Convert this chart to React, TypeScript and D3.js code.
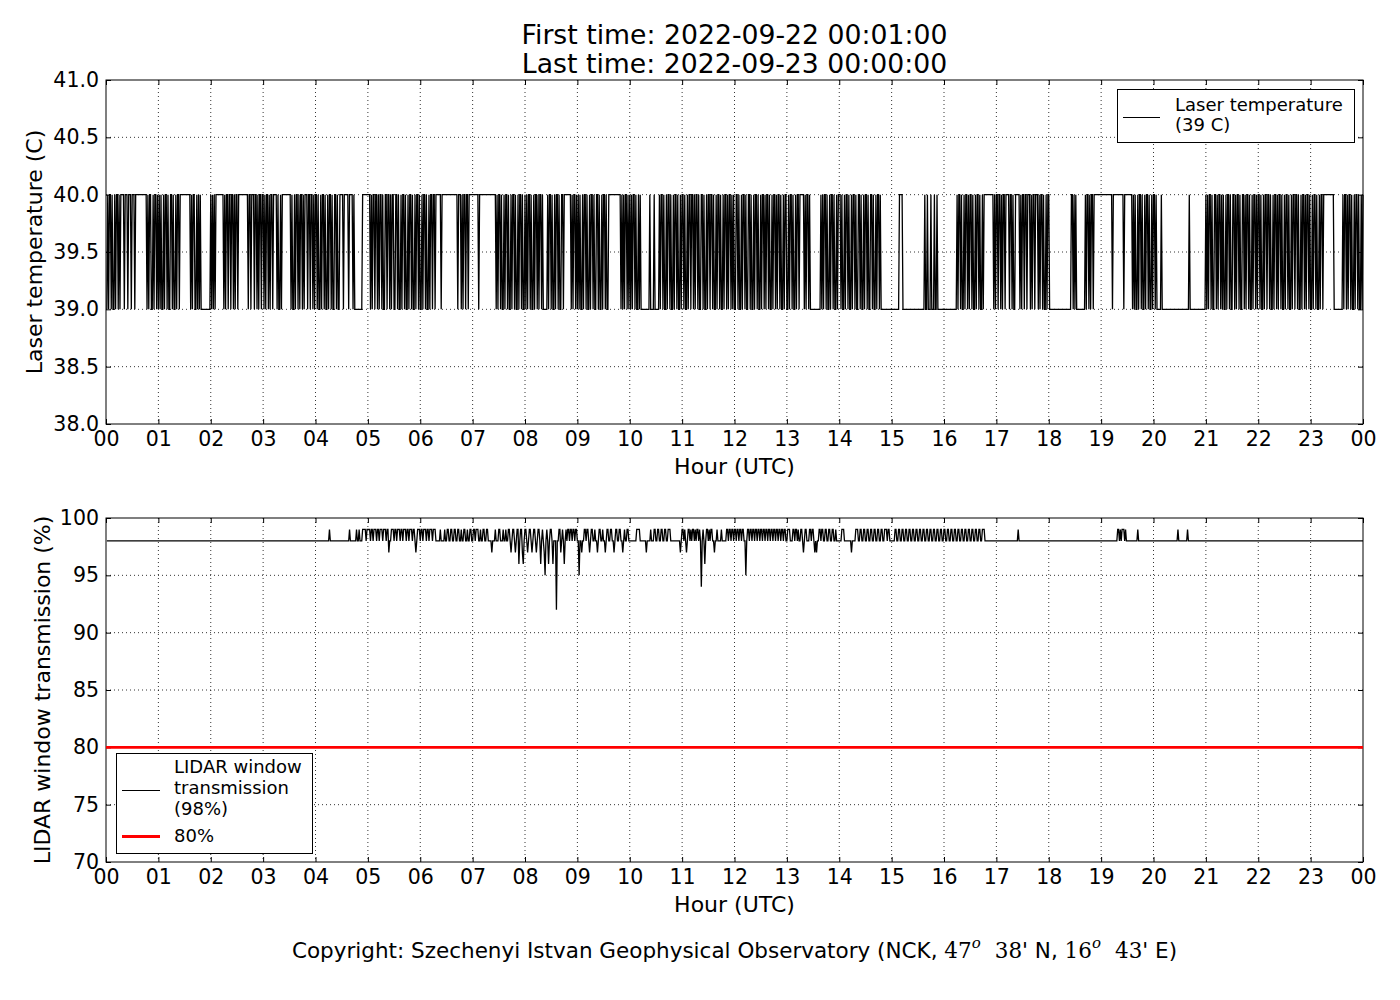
import React, { useEffect, useRef } from 'react';
import * as d3 from 'd3';

// hour tick labels (00 .. 23, 00 of next day)
const hourLabels = ['00', '01', '02', '03', '04', '05', '06', '07', '08', '09', '10', '11',
  '12', '13', '14', '15', '16', '17', '18', '19', '20', '21', '22', '23', '00'];

const laserTicks = [38.0, 38.5, 39.0, 39.5, 40.0, 40.5, 41.0];
const lidarTicks = [70, 75, 80, 85, 90, 95, 100];

// laser temperature per minute, one row per hour: 1 = 40 C, 0 = 39 C
const laserHours = [
  '0101101001 0110101111 0111011101 1101111111 1111110101 1001011010',
  '1010010110 1001101001 0110111111 1111110101 1001010100 0000000001',
  '0101011111 1111010110 1101101011 0111111111 1101101110 1101011011',
  '0101101011 0111101001 0111111111 1010010110 1011010111 0110110101',
  '1010010110 1001011010 0110100111 1011111011 1101000000 0001111111',
  '1101011011 0101101001 1011010110 0110100101 1010010110 1001011010',
  '0101101001 0110110111 1110111111 1111111111 1101110101 1011011111',
  '1111110111 1111111111 1111110101 1010010110 1001011010 0101101001',
  '0101101001 0110101101 0000010110 1001011010 0110111111 1101011010',
  '1010010110 1001011010 0110100101 1010011111 1111111110 1010110101',
  '0101101001 0100000000 0010000100 0001011010 0101101001 0110100101',
  '1010010110 1101011010 0110100101 1011010010 1101001011 0101101010',
  '0110100101 1010011010 0101101001 0110101101 0010110101 1010010110',
  '0101101001 0110111110 1011010000 0000000010 1011010010 1101001011',
  '1010010110 1001011010 0110100101 1010011010 0101101000 0000000000',
  '0000000011 1100000000 0000000000 0000000100 1000100010 0100000000',
  '0000000000 0000101101 0010110101 1010010110 1001011111 1111110101',
  '1011010110 1111011010 0111110101 1011011101 0110111010 1101001011',
  '0000000000 0000000000 0000011010 1000000000 0101101011 0111111111',
  '1111111111 1101111111 1111101111 1111101010 0101101001 0110100101',
  '1010000010 0000000000 0000000000 0000000000 1000000000 0000000001',
  '0101101001 1010110101 0010110100 1101011010 0110101101 0010110101',
  '1010010110 1101001011 0101101001 0110100101 1011010010 1101011010',
  '0101101001 0110111111 1111110000 0000001011 0101101001 0110100101',
];

// LIDAR window transmission: 98 % except these [first minute, last minute, value] runs
const lidarBase = 98;
const lidarRuns: [number, number, number][] = [
  [256, 256, 99],
  [279, 279, 99], [287, 287, 99], [290, 290, 99], [294, 297, 99], [299, 302, 99],
  [304, 305, 99], [307, 309, 99], [311, 312, 99], [314, 316, 99], [318, 320, 99], [322, 323, 99], [324, 324, 97],
  [327, 329, 99], [331, 332, 99], [334, 336, 99], [338, 339, 99], [341, 343, 99], [345, 346, 99], [348, 350, 99], [352, 353, 99], [355, 355, 97],
  [357, 359, 99], [361, 362, 99], [364, 366, 99], [368, 369, 99], [371, 373, 99], [375, 377, 99],
  [383, 383, 99], [388, 388, 99], [391, 392, 99], [395, 396, 99], [399, 400, 99], [403, 404, 99], [407, 407, 99], [410, 411, 99], [414, 414, 99], [417, 418, 99], [421, 422, 99],
  [424, 426, 99], [429, 429, 99], [432, 433, 99], [436, 437, 99], [442, 442, 97],
  [446, 446, 99], [450, 451, 99], [455, 455, 99], [458, 458, 99],
  [461, 462, 99], [464, 464, 97], [466, 467, 99], [469, 469, 97], [471, 472, 99], [473, 473, 96], [475, 476, 99], [477, 477, 97], [478, 478, 96], [480, 481, 99], [483, 483, 97], [485, 486, 99], [488, 488, 97],
  [490, 491, 99], [493, 493, 97], [495, 496, 99], [498, 498, 96], [500, 500, 99], [502, 502, 97], [503, 503, 95], [505, 505, 99], [507, 507, 96], [509, 510, 99], [512, 512, 96], [516, 516, 92],
  [519, 520, 99], [521, 521, 97], [523, 523, 99], [525, 525, 96], [527, 527, 99],
  [529, 530, 99], [532, 533, 99], [535, 536, 99], [538, 539, 99], [542, 542, 95], [545, 545, 97],
  [548, 549, 99], [551, 552, 99], [554, 554, 97], [556, 557, 99], [560, 560, 99], [563, 563, 97], [565, 566, 99], [569, 569, 99], [572, 572, 97], [574, 575, 99], [578, 579, 99], [582, 582, 97], [584, 585, 99], [588, 589, 99], [592, 592, 97], [594, 594, 99], [597, 598, 99],
  [608, 611, 99], [619, 619, 97],
  [624, 624, 99], [628, 629, 99], [632, 633, 99], [636, 637, 99], [640, 641, 99], [644, 646, 99], [658, 658, 97],
  [660, 661, 99], [663, 663, 99], [665, 665, 97], [667, 668, 99], [670, 670, 99], [672, 673, 99], [675, 675, 99], [677, 678, 99], [680, 680, 99], [682, 682, 94], [684, 684, 99], [686, 686, 96], [688, 689, 99], [691, 691, 99], [693, 694, 99], [697, 697, 97], [700, 700, 99], [705, 705, 99],
  [711, 712, 99], [714, 715, 99], [717, 718, 99], [720, 721, 99], [723, 724, 99], [726, 727, 99], [729, 730, 99], [733, 733, 95], [735, 736, 99], [738, 739, 99], [741, 742, 99], [744, 745, 99], [747, 748, 99], [750, 751, 99], [753, 754, 99], [756, 757, 99], [759, 760, 99], [762, 763, 99], [765, 766, 99], [768, 769, 99], [771, 772, 99], [774, 775, 99], [777, 778, 99],
  [781, 783, 99], [787, 788, 99], [790, 791, 99], [793, 793, 99], [796, 797, 99], [799, 799, 97], [801, 802, 99], [806, 807, 99], [809, 810, 99], [812, 812, 97], [814, 814, 97], [817, 818, 99],
  [820, 821, 99], [824, 825, 99], [828, 829, 99], [832, 833, 99], [836, 836, 99], [843, 845, 99], [854, 854, 97],
  [859, 861, 99], [864, 865, 99], [868, 869, 99], [872, 873, 99], [876, 877, 99], [880, 881, 99], [884, 885, 99], [888, 889, 99], [892, 894, 99], [896, 897, 99],
  [904, 905, 99], [908, 909, 99], [912, 913, 99], [916, 917, 99], [920, 921, 99], [924, 925, 99], [928, 929, 99], [932, 933, 99], [936, 937, 99], [940, 941, 99],
  [944, 945, 99], [948, 949, 99], [952, 953, 99], [956, 957, 99], [960, 961, 99], [964, 965, 99], [968, 969, 99], [972, 973, 99], [976, 977, 99], [980, 981, 99],
  [984, 985, 99], [988, 989, 99], [992, 993, 99], [996, 997, 99], [1000, 1001, 99], [1004, 1006, 99],
  [1045, 1045, 99], [1159, 1160, 99], [1162, 1162, 99], [1164, 1166, 99], [1168, 1168, 99], [1182, 1182, 99], [1228, 1228, 99], [1239, 1239, 99],
];

const lidarLimit = 80;

interface Point { t: number; v: number; }

const laserSeries: Point[] = laserHours.flatMap((row, h) =>
  row.replace(/\s/g, '').split('').map((c, i) => ({ t: h * 60 + i + 1, v: c === '1' ? 40 : 39 })));

const lidarSeries: Point[] = d3.range(1, 1441).map(t => {
  const run = lidarRuns.find(r => t >= r[0] && t <= r[1]);
  return { t, v: run ? run[2] : lidarBase };
});

const FONT = 'DejaVu Sans, sans-serif';
const SERIF = 'DejaVu Serif, Liberation Serif, serif';

const App: React.FC = () => {
  const svgRef = useRef<SVGSVGElement | null>(null);

  useEffect(() => {
    if (!svgRef.current) return;
    const svg = d3.select(svgRef.current);
    svg.selectAll('*').remove();

    const left = 106, right = 1363, cx = (left + right) / 2;
    const x = d3.scaleLinear().domain([0, 1440]).range([left, right]);
    const hourTicks = d3.range(0, 1441, 60);

    const drawPanel = (top: number, bottom: number, domain: [number, number], ticks: number[],
      fmt: (d: number) => string, label: string, labelX: number, series: Point[]) => {
      const y = d3.scaleLinear().domain(domain).range([bottom, top]);
      const g = svg.append('g');

      // grid
      g.selectAll('.vgrid').data(hourTicks.slice(1, -1)).enter().append('line')
        .attr('x1', d => x(d)).attr('x2', d => x(d)).attr('y1', top).attr('y2', bottom)
        .attr('stroke', '#000').attr('stroke-width', 0.8).attr('stroke-dasharray', '1,3');
      g.selectAll('.hgrid').data(ticks.slice(1, -1)).enter().append('line')
        .attr('x1', left).attr('x2', right).attr('y1', d => y(d)).attr('y2', d => y(d))
        .attr('stroke', '#000').attr('stroke-width', 0.8).attr('stroke-dasharray', '1,3');

      // data
      g.append('path').datum(series)
        .attr('d', d3.line<Point>().x(d => x(d.t)).y(d => y(d.v)))
        .attr('fill', 'none').attr('stroke', '#000').attr('stroke-width', 1.3);

      // axes
      const bottomAxis = g.append('g').attr('transform', `translate(0,${bottom})`)
        .call(d3.axisBottom(x).tickValues(hourTicks).tickFormat((_d, i) => hourLabels[i])
          .tickSizeInner(-5).tickSizeOuter(0).tickPadding(7));
      const leftAxis = g.append('g').attr('transform', `translate(${left},0)`)
        .call(d3.axisLeft(y).tickValues(ticks).tickFormat(d => fmt(+d))
          .tickSizeInner(-5).tickSizeOuter(0).tickPadding(7));
      g.append('g').attr('transform', `translate(0,${top})`)
        .call(d3.axisTop(x).tickValues(hourTicks).tickFormat(() => '').tickSizeInner(-5).tickSizeOuter(0));
      g.append('g').attr('transform', `translate(${right},0)`)
        .call(d3.axisRight(y).tickValues(ticks).tickFormat(() => '').tickSizeInner(-5).tickSizeOuter(0));
      g.selectAll('.domain').remove();
      g.selectAll('.tick line').attr('stroke', '#000');
      [bottomAxis, leftAxis].forEach(a => a.selectAll('text')
        .attr('font-family', FONT).attr('font-size', 20.5).attr('fill', '#000'));

      g.append('rect').attr('x', left).attr('y', top).attr('width', right - left).attr('height', bottom - top)
        .attr('fill', 'none').attr('stroke', '#000').attr('stroke-width', 1);

      g.append('text').attr('x', cx).attr('y', bottom + 50).attr('text-anchor', 'middle')
        .attr('font-family', FONT).attr('font-size', 22).text('Hour (UTC)');
      g.append('text').attr('transform', `translate(${labelX},${(top + bottom) / 2}) rotate(-90)`)
        .attr('text-anchor', 'middle').attr('font-family', FONT).attr('font-size', 22).text(label);
      return { g, y };
    };

    drawPanel(80, 424, [38, 41], laserTicks, d => d.toFixed(1), 'Laser temperature (C)', 42, laserSeries);
    const lower = drawPanel(518, 862, [70, 100], lidarTicks, d => String(d), 'LIDAR window transmission (%)', 50, lidarSeries);

    // 80 % threshold
    lower.g.append('line').attr('x1', left).attr('x2', right)
      .attr('y1', lower.y(lidarLimit)).attr('y2', lower.y(lidarLimit))
      .attr('stroke', '#ff0000').attr('stroke-width', 2.8);

    // legends
    const legTop = svg.append('g');
    legTop.append('rect').attr('x', 1117.5).attr('y', 89.5).attr('width', 237).attr('height', 53)
      .attr('fill', '#fff').attr('stroke', '#000');
    legTop.append('line').attr('x1', 1123).attr('x2', 1160).attr('y1', 117.5).attr('y2', 117.5)
      .attr('stroke', '#000').attr('stroke-width', 1);
    legTop.selectAll('text').data(['Laser temperature', '(39 C)']).enter().append('text')
      .attr('x', 1175).attr('y', (_d, i) => 111 + i * 20)
      .attr('font-family', FONT).attr('font-size', 18).text(d => d);

    const legBot = svg.append('g');
    legBot.append('rect').attr('x', 116.5).attr('y', 753.5).attr('width', 196).attr('height', 100)
      .attr('fill', '#fff').attr('stroke', '#000');
    legBot.append('line').attr('x1', 122).attr('x2', 160).attr('y1', 790.5).attr('y2', 790.5)
      .attr('stroke', '#000').attr('stroke-width', 1);
    legBot.append('line').attr('x1', 122).attr('x2', 160).attr('y1', 836.5).attr('y2', 836.5)
      .attr('stroke', '#ff0000').attr('stroke-width', 2.8);
    legBot.selectAll('text').data(['LIDAR window', 'transmission', '(98%)']).enter().append('text')
      .attr('x', 174).attr('y', (_d, i) => 773 + i * 21)
      .attr('font-family', FONT).attr('font-size', 18).text(d => d);
    legBot.append('text').attr('x', 174).attr('y', 842)
      .attr('font-family', FONT).attr('font-size', 18).text('80%');

    // title
    svg.selectAll('.title').data(['First time: 2022-09-22 00:01:00', 'Last time: 2022-09-23 00:00:00'])
      .enter().append('text')
      .attr('x', cx).attr('y', (_d, i) => 44 + i * 29).attr('text-anchor', 'middle')
      .attr('font-family', FONT).attr('font-size', 26.7).text(d => d);

    // copyright line with mathtext-style coordinates
    const copy = svg.append('text').attr('x', cx).attr('y', 958).attr('text-anchor', 'middle')
      .attr('font-family', FONT).attr('font-size', 21.5);
    const part = (t: string, opts: { serif?: boolean; sup?: boolean; dy?: number; dx?: number } = {}) => {
      const s = copy.append('tspan').text(t);
      if (opts.serif) s.attr('font-family', SERIF);
      if (opts.sup) s.attr('font-size', 15).attr('font-style', 'italic');
      if (opts.dy) s.attr('dy', opts.dy);
      if (opts.dx) s.attr('dx', opts.dx);
    };
    part('Copyright: Szechenyi Istvan Geophysical Observatory (NCK, ');
    part('47', { serif: true });
    part('o', { serif: true, sup: true, dy: -10 });
    part('38', { serif: true, dy: 10, dx: 14 });
    part("' N, ");
    part('16', { serif: true });
    part('o', { serif: true, sup: true, dy: -10 });
    part('43', { serif: true, dy: 10, dx: 14 });
    part("' E)");
  }, []);

  return (
    <svg ref={svgRef} width={1400} height={1000}
      style={{ position: 'absolute', left: 0, top: 0, background: '#fff' }} />
  );
};

export default App;
